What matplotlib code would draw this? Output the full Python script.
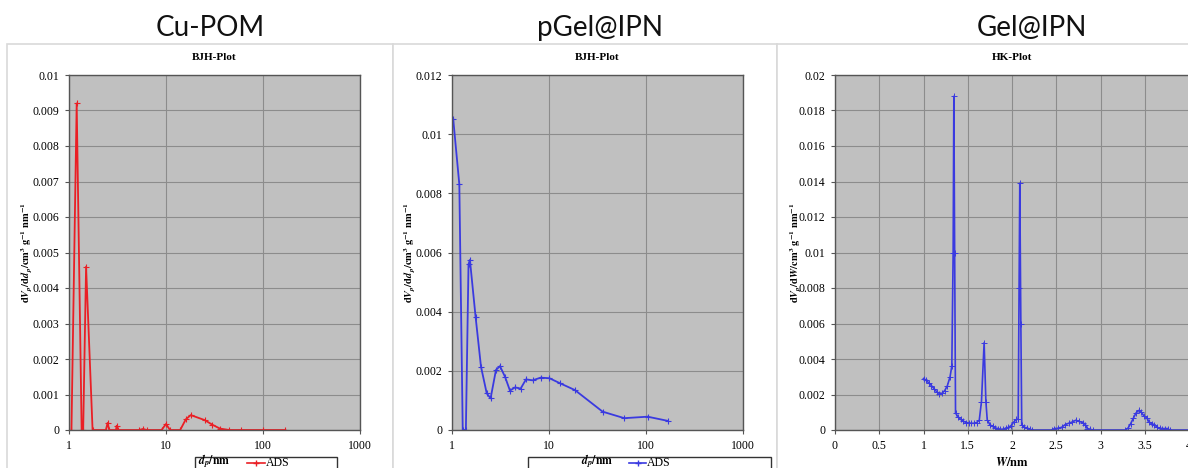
import matplotlib
matplotlib.use("Agg")
import matplotlib.pyplot as plt
from matplotlib.patches import Rectangle
from matplotlib.lines import Line2D
from matplotlib.ticker import FixedLocator, FuncFormatter, NullLocator

plt.rcParams['font.family'] = ['Liberation Serif', 'DejaVu Serif']
plt.rcParams['mathtext.fontset'] = 'stix'

# Panel titles
titles = ["Cu-POM", "pGel@IPN", "Gel@IPN"]
subtitles = ["BJH-Plot", "BJH-Plot", "HK-Plot"]

# Cu-POM, BJH adsorption (pore diameter nm, dV/dd)
cu_d = [1.06, 1.2, 1.35, 1.4, 1.5, 1.75, 2.4, 2.5, 2.6, 3.05, 3.1, 3.2,
        5.3, 5.8, 6.3, 9.0, 10.0, 11.0, 14.0, 16.0, 18.0, 25.0, 30.0,
        36.0, 45.0, 60.0, 100.0, 170.0]
cu_v = [0, 0.0092, 0, 0, 0.0046, 0, 0, 0.0002, 0, 0, 0.00012, 0,
        0, 0.00003, 0, 0, 0.00017, 0, 0, 0.0003, 0.00042, 0.00028, 0.00015,
        0.00004, 0, 0, 0, 0]

# pGel@IPN, BJH adsorption
pg_d = [1.03, 1.19, 1.29, 1.39, 1.48, 1.53, 1.75, 1.99, 2.28, 2.5, 2.84,
        3.12, 3.52, 3.96, 4.46, 5.1, 5.79, 6.79, 8.2, 10.1, 13.0, 18.5,
        35.7, 59.7, 104.0, 167.0]
pg_v = [0.0105, 0.0083, 0, 0, 0.0056, 0.00575, 0.00383, 0.00214, 0.00124,
        0.00107, 0.00203, 0.00216, 0.0018, 0.00133, 0.00144, 0.0014,
        0.00171, 0.00168, 0.00177, 0.00175, 0.00158, 0.00135, 0.00062,
        0.0004, 0.00045, 0.00031]

# Gel@IPN, HK pore width (nm, dV/dW)
hk_w = [1.00, 1.03, 1.06, 1.09, 1.12, 1.15, 1.18, 1.21, 1.24, 1.27, 1.30,
        1.32, 1.335, 1.343, 1.352, 1.362, 1.39, 1.42, 1.45, 1.48, 1.51,
        1.54, 1.57, 1.60, 1.63, 1.655, 1.685, 1.705, 1.72, 1.75, 1.78,
        1.81, 1.84, 1.87, 1.90, 1.93, 1.96, 1.99, 2.02, 2.05, 2.07, 2.08,
        2.088, 2.10, 2.11, 2.14, 2.17, 2.20, 2.23, 2.45, 2.48, 2.52, 2.56,
        2.60, 2.64, 2.68, 2.72, 2.76, 2.80, 2.83, 2.85, 2.88, 2.91, 3.28,
        3.31, 3.34, 3.37, 3.40, 3.43, 3.46, 3.49, 3.52, 3.55, 3.58, 3.61,
        3.64, 3.67, 3.70, 3.73, 3.76, 3.78, 4.0]
hk_v = [0.0029, 0.0028, 0.00265, 0.0025, 0.00232, 0.00215, 0.00205,
        0.00207, 0.00222, 0.0025, 0.003, 0.0036, 0.01, 0.0188, 0.01,
        0.00095, 0.00075, 0.0006, 0.0005, 0.00042, 0.0004, 0.00038,
        0.00038, 0.00042, 0.00055, 0.0016, 0.00492, 0.0016, 0.00058,
        0.0003, 0.0002, 0.00012, 0.00008, 0.00004, 0.00005, 0.0001,
        0.00015, 0.00025, 0.00045, 0.0006, 0.0006, 0.008, 0.0139, 0.006,
        0.0003, 0.00015, 0.00012, 0.00005, 0, 0, 0.00008, 0.0001, 0.00015,
        0.0003, 0.00038, 0.00045, 0.00055, 0.00048, 0.00042, 0.0003,
        0.00008, 0.00005, 0, 0, 0.0001, 0.00035, 0.00065, 0.00095, 0.0011,
        0.001, 0.0008, 0.0007, 0.00045, 0.00035, 0.0003, 0.00015, 0.0001,
        0.00008, 0.00008, 0.00008, 0, 0]

W, H = 1188, 468
fig = plt.figure(figsize=(W / 100, H / 100), dpi=100)
fig.patch.set_facecolor("white")


def px_axes(left, right, top, bottom):
    return fig.add_axes([left / W, 1 - bottom / H, (right - left) / W, (bottom - top) / H])


# white chart frames (behind the axes)
for x0, x1 in [(7, 393), (393, 777), (777, 1195)]:
    fig.patches.append(Rectangle((x0 / W, -0.05), (x1 - x0) / W, 1.05 - 44 / H,
                                 transform=fig.transFigure, facecolor="white",
                                 edgecolor="#d9d9d9", lw=1.2, zorder=-10))

red = "#ea1f25"
blue = "#3a3ae0"

fmt = FuncFormatter(lambda v, p: "0" if v == 0 else f"{v:g}")


def style(ax, yticks):
    ax.set_facecolor("#c0c0c0")
    for s in ax.spines.values():
        s.set_color("#555555")
        s.set_linewidth(1.0)
    ax.grid(True, color="#8c8c8c", lw=0.8)
    ax.set_axisbelow(True)
    ax.yaxis.set_major_locator(FixedLocator(yticks))
    ax.yaxis.set_major_formatter(fmt)
    ax.tick_params(labelsize=8.5, length=3, width=0.8, color="#555555", pad=4)
    ax.set_ylim(yticks[0], yticks[-1])


ylab_bjh = r"$\mathbf{d}\mathbfit{V}_{\mathbfit{p}}\mathbf{/d}\mathbfit{d}_{\mathbfit{p}}\mathbf{/cm^{3}\ g^{-1}\ nm^{-1}}$"
ylab_hk = r"$\mathbf{d}\mathbfit{V}_{\mathbfit{p}}\mathbf{/d}\mathbfit{W}\mathbf{/cm^{3}\ g^{-1}\ nm^{-1}}$"

# --- Cu-POM ---
ax1 = px_axes(69, 360, 75, 430)
ax1.plot(cu_d, cu_v, color=red, lw=1.3, marker="+", ms=5, mew=0.8)
ax1.set_xscale("log")
ax1.set_xlim(1, 1000)
ax1.xaxis.set_major_locator(FixedLocator([1, 10, 100, 1000]))
ax1.xaxis.set_minor_locator(NullLocator())
ax1.xaxis.set_major_formatter(FuncFormatter(lambda v, p: f"{v:g}"))
style(ax1, [i * 0.001 for i in range(11)])
ax1.set_ylabel(ylab_bjh, fontsize=7.5)
ax1.yaxis.set_label_coords(-0.12, 0.5)

# --- pGel@IPN ---
ax2 = px_axes(452, 743, 75, 430)
ax2.plot(pg_d, pg_v, color=blue, lw=1.3, marker="+", ms=5, mew=0.8)
ax2.set_xscale("log")
ax2.set_xlim(1, 1000)
ax2.xaxis.set_major_locator(FixedLocator([1, 10, 100, 1000]))
ax2.xaxis.set_minor_locator(NullLocator())
ax2.xaxis.set_major_formatter(FuncFormatter(lambda v, p: f"{v:g}"))
style(ax2, [i * 0.002 for i in range(7)])
ax2.set_ylabel(ylab_bjh, fontsize=7.5)
ax2.yaxis.set_label_coords(-0.12, 0.5)

# --- Gel@IPN ---
ax3 = px_axes(835, 1189, 75, 430)
ax3.plot(hk_w, hk_v, color=blue, lw=1.2, marker="+", ms=4, mew=0.7)
ax3.set_xlim(0, 4)
ax3.xaxis.set_major_locator(FixedLocator([0, 0.5, 1, 1.5, 2, 2.5, 3, 3.5, 4]))
ax3.xaxis.set_major_formatter(FuncFormatter(lambda v, p: f"{v:g}"))
style(ax3, [i * 0.002 for i in range(11)])
ax3.set_ylabel(ylab_hk, fontsize=7.5)
ax3.yaxis.set_label_coords(-0.09, 0.5)
ax3.set_xlabel(r"$\mathbfit{W}\mathbf{/nm}$", fontsize=9, labelpad=3)

# big titles and chart titles
for cx, t in [(210, titles[0]), (600, titles[1]), (1032, titles[2])]:
    fig.text(cx / W, 1 - 28 / H, t, ha="center", va="center", fontsize=20,
             family=["Lato", "DejaVu Sans"], color="#111111")
for ax, st in zip([ax1, ax2, ax3], subtitles):
    ax.set_title(st, fontsize=8, fontweight="bold", pad=11)

# legend boxes along the bottom of the BJH charts
# (box left, box right, label centre, line start, line end, colour)
legend_boxes = [(195, 337, 214, 247, 265, red), (528, 771, 597, 629, 646, blue)]
for x0, x1, tx, l0, l1, col in legend_boxes:
    fig.patches.append(Rectangle((x0 / W, -0.05), (x1 - x0) / W, 0.05 + (468 - 457) / H,
                                 transform=fig.transFigure, facecolor="white",
                                 edgecolor="#333333", lw=1.0))
    yy = 1 - 463 / H
    fig.text(tx / W, 1 - 461.5 / H, r"$\mathbfit{d}_{\mathbfit{p}}\mathbf{/nm}$",
             ha="center", va="center", fontsize=8.5)
    fig.lines.append(Line2D([l0 / W, l1 / W], [yy, yy], transform=fig.transFigure,
                            color=col, lw=1.2))
    fig.lines.append(Line2D([(l0 + l1) / 2 / W], [yy], transform=fig.transFigure,
                            color=col, marker="+", ms=5, lw=0))
    fig.text((l1 + 1) / W, yy, "ADS", ha="left", va="center", fontsize=8.5)

fig.savefig("out.png", dpi=100)
